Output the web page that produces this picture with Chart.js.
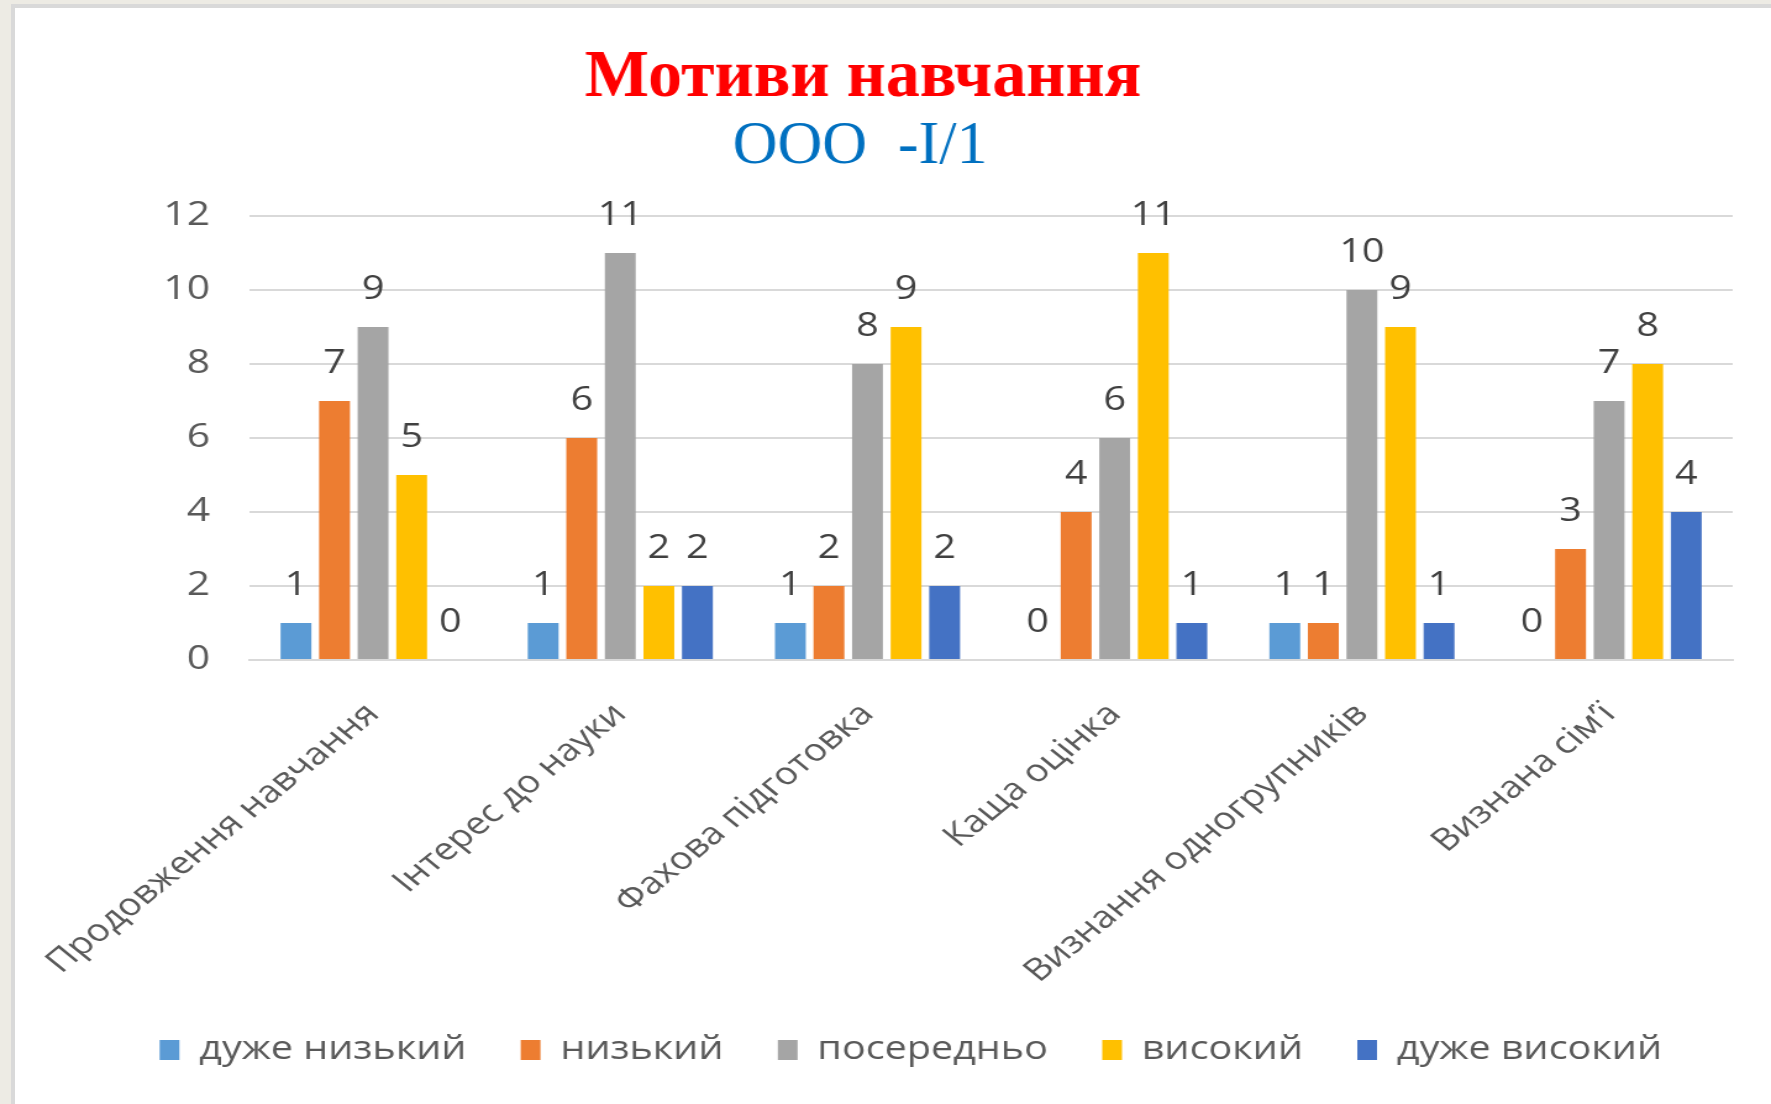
<!DOCTYPE html>
<html lang="uk">
<head>
<meta charset="utf-8">
<title>Мотиви навчання</title>
<script src="https://cdn.jsdelivr.net/npm/chart.js@4/dist/chart.umd.min.js"></script>
<style>
  html, body { margin: 0; padding: 0; }
  body { width: 1771px; height: 1104px; background: #edebe4; position: relative; overflow: hidden; }
  /* slide frame behind the chart */
  #sheet { position: absolute; left: 11px; top: 4px; right: 0; bottom: 0; background: #fff;
           border-left: 4px solid #d9d9d9; border-top: 4px solid #d9d9d9; }
  #motivesChart { position: absolute; left: 0; top: 0; }
</style>
</head>
<body>
<div id="sheet"></div>
<!-- drawn at 1434 wide and shown stretched to 1771, like the pasted slide chart -->
<canvas id="motivesChart" width="1434" height="1104" style="width:1771px;height:1104px"></canvas>
<script>
// Chart data
const chartTitle = 'Мотиви навчання';
const chartSubtitle = 'ООО  -І/1';
const categories = ['Продовження навчання', 'Інтерес до науки', 'Фахова підготовка', 'Каща оцінка', 'Визнання одногрупників', 'Визнана сім’ї'];
const seriesNames = ['дуже низький', 'низький', 'посередньо', 'високий', 'дуже високий'];
const veryLow = [1, 1, 1, 0, 1, 0];
const low = [7, 6, 2, 4, 1, 3];
const medium = [9, 11, 8, 6, 10, 7];
const high = [5, 2, 9, 11, 9, 8];
const veryHigh = [0, 2, 2, 1, 1, 4];
const yTicks = [0, 2, 4, 6, 8, 10, 12];

const seriesColors = ['#5b9bd5', '#ed7d31', '#a5a5a5', '#ffc000', '#4472c4'];
const STRETCH = 1771 / 1434; // horizontal stretch of the canvas on screen

Chart.defaults.font.family = '"Open Sans", sans-serif';

// Values above the bars
const valueLabels = {
  id: 'valueLabels',
  afterDatasetsDraw(chart) {
    const ctx = chart.ctx;
    ctx.save();
    ctx.font = '32px "Open Sans"';
    ctx.fillStyle = '#404040';
    ctx.textAlign = 'center';
    ctx.textBaseline = 'alphabetic';
    chart.data.datasets.forEach((ds, i) => {
      chart.getDatasetMeta(i).data.forEach((bar, j) => {
        ctx.fillText(String(ds.data[j]), bar.x, bar.y - 28);
      });
    });
    ctx.restore();
  }
};

// Slide title: this text is not stretched, so undo the stretch while drawing it
const slideTitle = {
  id: 'slideTitle',
  afterDraw(chart) {
    const ctx = chart.ctx;
    ctx.save();
    ctx.scale(1 / STRETCH, 1);
    ctx.textAlign = 'center';
    ctx.textBaseline = 'alphabetic';
    ctx.fillStyle = '#ff0000';
    ctx.font = 'bold 68px "Liberation Serif"';
    ctx.fillText(chartTitle, 863, 96);
    ctx.fillStyle = '#0070c0';
    ctx.font = '62px "Liberation Serif"';
    ctx.fillText(chartSubtitle, 860, 163);
    ctx.restore();
  }
};

const seriesData = [veryLow, low, medium, high, veryHigh];

const chart = new Chart(document.getElementById('motivesChart').getContext('2d'), {
  type: 'bar',
  data: {
    labels: categories,
    datasets: seriesNames.map((name, i) => ({
      label: name,
      data: seriesData[i],
      backgroundColor: seriesColors[i],
      borderWidth: 0,
      categoryPercentage: 0.78,
      barPercentage: 0.8
    }))
  },
  options: {
    responsive: false,
    animation: false,
    layout: { padding: { left: 72, right: 31, top: 216, bottom: 28 } },
    scales: {
      x: {
        grid: { display: false, drawTicks: false },
        border: { display: true, color: '#d9d9d9', width: 2 },
        ticks: {
          color: '#595959',
          font: { size: 31 },
          minRotation: 45,
          maxRotation: 45,
          autoSkip: false,
          padding: 36
        },
        // let the slanted labels run under the value axis and into the legend's top margin
        afterFit: (scale) => { scale.paddingLeft = 0; scale.height = 330; }
      },
      y: {
        min: yTicks[0],
        max: yTicks[yTicks.length - 1],
        afterBuildTicks: (scale) => { scale.ticks = yTicks.map(v => ({ value: v })); },
        afterFit: (scale) => { scale.width = 130; },
        grid: { color: '#d9d9d9', lineWidth: 2, drawTicks: false },
        border: { display: false },
        ticks: { color: '#595959', font: { size: 33 }, padding: 32 }
      }
    },
    plugins: {
      legend: {
        position: 'bottom',
        labels: {
          boxWidth: 16,
          boxHeight: 20,
          padding: 44,
          color: '#595959',
          font: { size: 32 }
        }
      },
      tooltip: { enabled: false }
    }
  },
  plugins: [valueLabels, slideTitle]
});
</script>
</body>
</html>
